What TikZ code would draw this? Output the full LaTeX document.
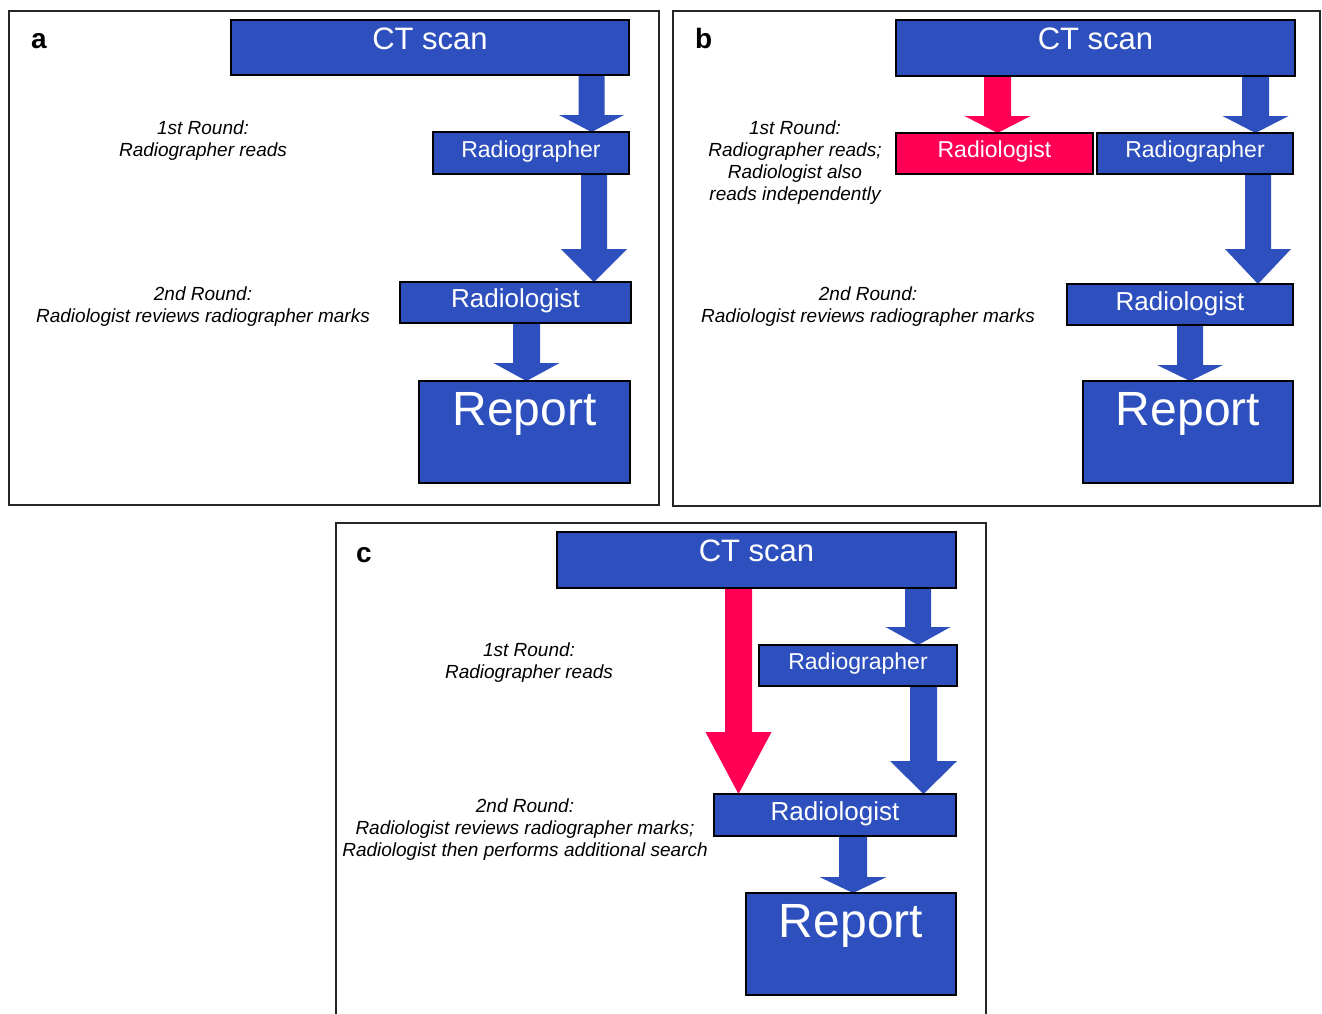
\documentclass[tikz,border=0pt]{standalone}
\usepackage{fontspec}
\setmainfont{Liberation Sans}
\usetikzlibrary{backgrounds}
\definecolor{cblue}{RGB}{46,80,190}
\definecolor{cred}{RGB}{255,0,85}
\tikzset{
  box/.style={draw=black, line width=1.6pt, inner sep=0pt, outer sep=0pt, rectangle},
  bluebox/.style={box, fill=cblue},
  redbox/.style={box, fill=cred},
  boxtext/.style={text=white, inner sep=0pt, anchor=base},
  fsmall/.style={font=\fontsize{23}{26}\selectfont},
  fmid/.style={font=\fontsize{26}{29}\selectfont},
  fct/.style={font=\fontsize{31}{34}\selectfont},
  frep/.style={font=\fontsize{48}{52}\selectfont},
  roundlbl/.style={font=\fontsize{19}{22}\selectfont\itshape, align=center, inner sep=0pt, anchor=north},
  panellbl/.style={font=\fontsize{28}{32}\selectfont\bfseries, inner sep=0pt, anchor=base west},
  panelframe/.style={draw=black!85, line width=1.8pt},
}
\newcommand\mkbox[6]{%
  \pgfmathsetmacro\mkbw{#5-#3}\pgfmathsetmacro\mkbh{#6-#4}%
  \pgfmathsetmacro\mkbcx{(#3+#5)/2}\pgfmathsetmacro\mkbcy{(#4+#6)/2}%
  \node[#1, minimum width=\mkbw pt, minimum height=\mkbh pt] (#2) at (\mkbcx,\mkbcy) {};%
}
% from, to, x centre, half shaft, half head, head y, colour
\newcommand\blockarrow[7]{%
  \coordinate (#1-#2-l) at (#3-#4,0);
  \coordinate (#1-#2-r) at (#3+#4,0);
  \coordinate (#1-#2-c) at (#3,0);
  \fill[#7] (#1-#2-l |- #1.south) -- (#3-#4,#6) -- (#3-#5,#6) -- (#1-#2-c |- #2.north)
     -- (#3+#5,#6) -- (#3+#4,#6) -- (#1-#2-r |- #1.south) -- cycle;
}
\begin{document}
\begin{tikzpicture}[x=1pt,y=-1pt]
\useasboundingbox (0,0) rectangle (1322,1013);
% frames
\draw[panelframe] (9,11) rectangle (659,505);
\draw[panelframe] (673,11) rectangle (1320,506);
\draw[panelframe] (336,1016) -- (336,523) -- (986,523) -- (986,1016);
% panel labels
\node[panellbl] (pa) at (31,48) {a};
\node[panellbl] (pb) at (695,48) {b};
\node[panellbl] (pc) at (356,562) {c};

% ---------- panel a ----------
\mkbox{bluebox}{cta}{231}{20}{629}{75}
\mkbox{bluebox}{rga}{433}{132}{629}{174}
\mkbox{bluebox}{rla}{400}{282}{631}{323}
\mkbox{bluebox}{rpa}{419}{381}{630}{483}
\node[boxtext, fct] (cta-t) at ([yshift=-29pt]cta.north) {CT scan};
\node[boxtext, fsmall] (rga-t) at ([yshift=-25pt]rga.north) {Radiographer};
\node[boxtext, fmid] (rla-t) at ([yshift=-25pt]rla.north) {Radiologist};
\node[boxtext, frep] (rpa-t) at ([yshift=-44pt]rpa.north) {Report};
\node[roundlbl] (r1a) at (203,121) {1st Round:\\Radiographer reads};
\node[roundlbl] (r2a) at (203,287) {2nd Round:\\Radiologist reviews radiographer marks};

% ---------- panel b ----------
\mkbox{bluebox}{ctb}{896}{20}{1295}{76}
\mkbox{redbox}{rrb}{896}{133}{1093}{174}
\mkbox{bluebox}{rgb}{1097}{133}{1293}{174}
\mkbox{bluebox}{rlb}{1067}{284}{1293}{325}
\mkbox{bluebox}{rpb}{1083}{381}{1293}{483}
\node[boxtext, fct] (ctb-t) at ([yshift=-29pt]ctb.north) {CT scan};
\node[boxtext, fsmall] (rrb-t) at ([yshift=-24pt]rrb.north) {Radiologist};
\node[boxtext, fsmall] (rgb-t) at ([yshift=-24pt]rgb.north) {Radiographer};
\node[boxtext, fmid] (rlb-t) at ([yshift=-26pt]rlb.north) {Radiologist};
\node[boxtext, frep] (rpb-t) at ([yshift=-44pt]rpb.north) {Report};
\node[roundlbl] (r1b) at (795,121) {1st Round:\\Radiographer reads;\\Radiologist also\\reads independently};
\node[roundlbl] (r2b) at (868,287) {2nd Round:\\Radiologist reviews radiographer marks};

% ---------- panel c ----------
\mkbox{bluebox}{ctc}{557}{532}{956}{588}
\mkbox{bluebox}{rgc}{759}{645}{957}{686}
\mkbox{bluebox}{rlc}{714}{794}{956}{836}
\mkbox{bluebox}{rpc}{746}{893}{956}{995}
\node[boxtext, fct] (ctc-t) at ([yshift=-29pt]ctc.north) {CT scan};
\node[boxtext, fsmall] (rgc-t) at ([yshift=-24pt]rgc.north) {Radiographer};
\node[boxtext, fmid] (rlc-t) at ([yshift=-26pt]rlc.north) {Radiologist};
\node[boxtext, frep] (rpc-t) at ([yshift=-44pt]rpc.north) {Report};
\node[roundlbl] (r1c) at (529,643) {1st Round:\\Radiographer reads};
\node[roundlbl] (r2c) at (525,799) {2nd Round:\\Radiologist reviews radiographer marks;\\Radiologist then performs additional search};

% ---------- arrows ----------
\begin{pgfonlayer}{background}
\blockarrow{cta}{rga}{591.5}{13}{32.5}{115}{cblue}
\blockarrow{rga}{rla}{594}{13}{33}{249}{cblue}
\blockarrow{rla}{rpa}{526.5}{13.5}{33}{363}{cblue}

\blockarrow{ctb}{rrb}{997.5}{13.5}{33}{116}{cred}
\blockarrow{ctb}{rgb}{1255.5}{13.5}{33}{116}{cblue}
\blockarrow{rgb}{rlb}{1258}{13}{33}{249}{cblue}
\blockarrow{rlb}{rpb}{1190}{13}{33}{365}{cblue}

\blockarrow{ctc}{rlc}{738.5}{13.5}{33}{732}{cred}
\blockarrow{ctc}{rgc}{918}{13}{32.5}{627}{cblue}
\blockarrow{rgc}{rlc}{923.5}{13.5}{33.5}{761}{cblue}
\blockarrow{rlc}{rpc}{853}{14}{33.5}{877}{cblue}
\end{pgfonlayer}
\end{tikzpicture}
\end{document}
